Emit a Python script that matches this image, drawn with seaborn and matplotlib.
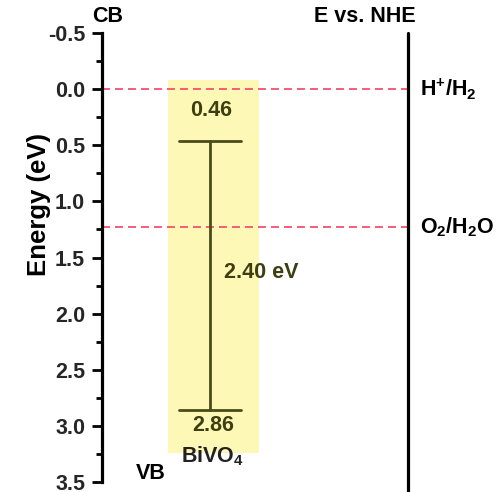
import matplotlib
matplotlib.use("Agg")
import matplotlib.pyplot as plt
import matplotlib.transforms as mtransforms
import seaborn as sns
import pandas as pd
from matplotlib.ticker import MultipleLocator

# Band-edge positions of BiVO4 (eV vs. NHE)
material = "BiVO$_4$"
cb_edge = 0.46
vb_edge = 2.86
band_gap = 2.40

# Water redox potentials (V vs. NHE)
redox_labels = ["H$^{+}$/H$_2$", "O$_2$/H$_2$O"]
redox_levels = [0.0, 1.23]

yticks = [-0.5, 0.0, 0.5, 1.0, 1.5, 2.0, 2.5, 3.0, 3.5]

sns.set_theme(style="ticks")
plt.rcParams["font.family"] = ["Liberation Sans", "DejaVu Sans"]
plt.rcParams["font.weight"] = "bold"
plt.rcParams["mathtext.fontset"] = "custom"
plt.rcParams["mathtext.rm"] = "Liberation Sans:bold"
plt.rcParams["mathtext.default"] = "rm"

fig = plt.figure(figsize=(5.02, 4.92), dpi=100)
ax = fig.add_axes([0.203, 0.0203, 0.610, 0.9126])

olive = "#4b4b1c"
text_olive = "#3e3e12"
fs = 15.5

# shaded band region
ax.axvspan(0.216, 0.513, ymin=(3.5 - 3.24) / 4.0, ymax=(3.5 + 0.08) / 4.0,
           color="#fdf8b5", lw=0, zorder=0)

# redox levels as dashed lines
redox_df = pd.DataFrame({
    "x": [0.0, 1.0] * len(redox_levels),
    "E": [lv for lv in redox_levels for _ in range(2)],
    "couple": [lb for lb in redox_labels for _ in range(2)],
})
sns.lineplot(data=redox_df, x="x", y="E", units="couple", estimator=None,
             color="#f5506e", lw=1.3, ls=(0, (4.4, 2.8)), ax=ax, zorder=2)

# band gap bar with caps at CB and VB
xc = 0.353
ax.plot([xc, xc], [cb_edge, vb_edge], color=olive, lw=2.0, zorder=3)
for e in (cb_edge, vb_edge):
    ax.plot([xc - 0.1, xc + 0.1], [e, e], color=olive, lw=2.0, zorder=3)

ax.text(0.356, cb_edge - 0.27, f"{cb_edge:.2f}", ha="center", va="center",
        fontsize=fs, fontweight="bold", color=text_olive)
ax.text(0.40, (cb_edge + vb_edge) / 2 - 0.03, f"{band_gap:.2f} eV", ha="left",
        va="center", fontsize=fs, fontweight="bold", color=text_olive)
ax.text(0.362, vb_edge + 0.14, f"{vb_edge:.2f}", ha="center", va="center",
        fontsize=fs, fontweight="bold", color=text_olive)
ax.text(0.362, 3.27, material, ha="center", va="center",
        fontsize=fs, fontweight="bold", color="#222222")
ax.text(0.16, 3.42, "VB", ha="center", va="center",
        fontsize=fs, fontweight="bold", color="black")
ax.text(0.02, -0.645, "CB", ha="center", va="center",
        fontsize=fs, fontweight="bold", color="black", clip_on=False)
ax.text(0.86, -0.645, "E vs. NHE", ha="center", va="center",
        fontsize=fs, fontweight="bold", color="black", clip_on=False)
for lb, lv in zip(redox_labels, redox_levels):
    ax.text(1.04, lv, lb, ha="left", va="center", fontsize=fs,
            fontweight="bold", color="black", clip_on=False)

# potential scale line on the right
ax.plot([1.0, 1.0], [-0.5, 3.6], color="black", lw=2.3, clip_on=False, zorder=4)

ax.set_xlim(0, 1)
ax.set_ylim(3.5, -0.5)
ax.set_yticks(yticks)
ax.set_yticklabels([f"{t:.1f}" for t in yticks])
ax.yaxis.set_minor_locator(MultipleLocator(0.25))
ax.set_xticks([])
ax.set_xlabel("")
ax.set_ylabel("")

# axis title, placed beside the upper part of the scale
trans = mtransforms.blended_transform_factory(ax.transAxes, ax.transData)
ax.text(-0.205, 1.03, "Energy (eV)", rotation=90, ha="center", va="center",
        fontsize=18.5, fontweight="bold", color="black", transform=trans,
        clip_on=False)

for s in ("top", "right", "bottom"):
    ax.spines[s].set_visible(False)
ax.spines["left"].set_linewidth(2.3)
ax.spines["left"].set_color("black")
ax.tick_params(axis="y", which="major", length=7, width=2, color="black",
               labelsize=fs, pad=5, left=True)
ax.tick_params(axis="y", which="minor", length=4, width=2, color="black", left=True)
for lbl in ax.get_yticklabels():
    lbl.set_fontweight("bold")
ax.set_facecolor("white")
fig.patch.set_facecolor("white")

fig.savefig("out.png", dpi=100)
